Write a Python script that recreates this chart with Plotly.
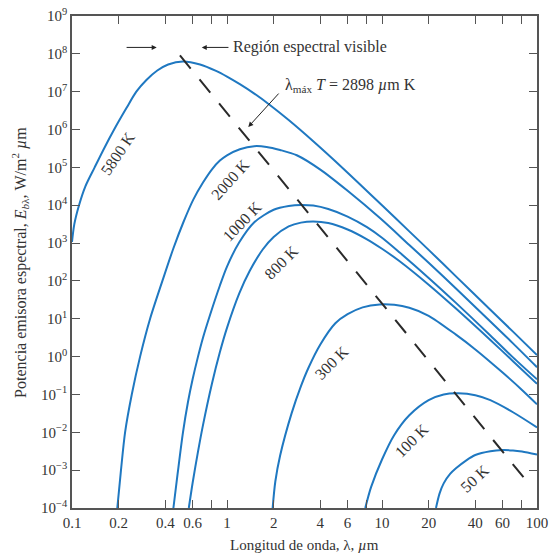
import math
import plotly.graph_objects as go

# ---------------- data ----------------
# wavelength (um) and spectral emissive power (W/m2 um) per temperature
lam_5800 = [0.1, 0.1035, 0.111, 0.122, 0.14, 0.162, 0.187, 0.224, 0.26, 0.302, 0.355, 0.417, 0.52,
            0.67, 0.85, 1.0, 1.21, 1.5, 1.89, 2.5, 3.6, 5, 7, 10, 15, 20, 30, 50, 70, 100]
E_5800 = [1.07e3, 3.16e3, 1.0e4, 3.16e4, 1.0e5, 3.31e5, 1.0e6, 3.63e6, 1.0e7, 2.04e7, 3.63e7, 5.25e7,
          6.31e7, 5.25e7, 3.55e7, 2.51e7, 1.58e7, 8.91e6, 4.47e6, 1.78e6, 4.9e5, 1.45e5, 3.98e4,
          1.0e4, 2.04e3, 661, 132, 17.4, 4.57, 1.10]

lam_2000 = [0.196, 0.207, 0.22, 0.243, 0.275, 0.319, 0.383, 0.45, 0.523, 0.606, 0.7, 0.8, 0.9, 1.0,
            1.21, 1.5, 1.8, 2.2, 2.82, 4, 6, 9.7, 15, 20, 30, 50, 70, 100]
E_2000 = [1e-4, 1e-3, 1e-2, 0.1, 1, 10, 100, 708, 3.55e3, 1.41e4, 3.98e4, 8.91e4, 1.51e5, 2.09e5,
          3.02e5, 3.63e5, 3.47e5, 2.88e5, 2.09e5, 8.71e4, 2.40e4, 4.57e3, 891, 302, 63.1, 8.51,
          2.24, 0.525]

lam_1000 = [0.451, 0.48, 0.52, 0.56, 0.6, 0.65, 0.7, 0.78, 0.9, 1.0, 1.2, 1.5, 2.0, 2.5, 3.0, 3.6,
            4.5, 6.0, 8.0, 10, 13, 20, 30, 50, 70, 100]
E_1000 = [1e-4, 7.94e-4, 1e-2, 6.31e-2, 0.251, 1.0, 3.16, 13.2, 75.9, 240, 1.05e3, 3.55e3, 7.59e3,
          9.55e3, 1.02e4, 9.77e3, 7.94e3, 5.01e3, 2.63e3, 1.38e3, 562, 120, 26.3, 3.63, 0.955, 0.251]

lam_800 = [0.567, 0.6, 0.65, 0.7, 0.8, 0.9, 1.0, 1.2, 1.4, 1.7, 2.0, 2.5, 3.0, 3.6, 4.5, 6.0, 8.0,
           10, 13, 20, 30, 50, 70, 100]
E_800 = [1e-4, 4.57e-4, 3.09e-3, 1.55e-2, 0.195, 1.32, 5.75, 46.8, 182, 676, 1.45e3, 2.75e3, 3.47e3,
         3.72e3, 3.39e3, 2.29e3, 1.26e3, 708, 331, 79.4, 18.6, 2.75, 0.759, 0.191]

lam_300 = [1.97, 2.05, 2.2, 2.61, 3.0, 3.35, 4.0, 5.0, 6.0, 7.5, 9.66, 12, 15, 20, 30, 40, 60, 80, 100]
E_300 = [1e-4, 5.01e-4, 2.40e-3, 3.16e-2, 0.166, 0.501, 2.09, 7.59, 13.2, 20.0, 24.0, 23.4, 19.5,
         12.0, 3.80, 1.55, 0.380, 0.132, 0.055]

lam_100 = [7.8, 8.5, 10, 12, 15, 20, 25, 31, 40, 50, 70, 100]
E_100 = [1e-4, 3.55e-4, 1.91e-3, 8.51e-3, 2.82e-2, 7.08e-2, 0.1, 0.107, 9.55e-2, 7.08e-2, 3.39e-2,
         1.35e-2]

lam_50 = [22.3, 23.5, 25, 27.5, 30, 35, 40, 50, 60, 70, 80, 100]
E_50 = [1e-4, 2.40e-4, 4.47e-4, 7.94e-4, 1.12e-3, 1.82e-3, 2.51e-3, 3.16e-3, 3.39e-3, 3.31e-3,
        3.09e-3, 2.57e-3]

# locus of maxima, lambda_max T = 2898 um K
lam_peak_line = [0.497, 86.5]
E_peak_line = [9.1e7, 4.9e-4]

# curve labels
label_text = ["5800 K", "2000 K", "1000 K", "800 K", "300 K", "100 K", "50 K"]
label_lam = [0.198, 1.046, 1.25, 2.23, 4.76, 15.6, 39.8]
label_E = [2.3e5, 4.9e4, 3.8e3, 316, 0.68, 5.9e-3, 5.9e-4]
label_angle = [-56, -48, -46, -45, -45, -45, -43]

# axis ticks
x_tickvals = [0.1, 0.2, 0.4, 0.6, 0.8, 1, 2, 4, 6, 8, 10, 20, 40, 60, 80, 100]
x_ticktext = ["0.1", "0.2", "0.4", "0.6", "", "1", "2", "4", "6", "", "10", "20", "40", "60", "", "100"]
y_exponents = [-4, -3, -2, -1, 0, 1, 2, 3, 4, 5, 6, 7, 8, 9]

# ---------------- figure ----------------
BLUE = "#1f78c1"
FONT = "Liberation Serif"
TXT = "#333333"

fig = go.Figure()
curves = [(lam_5800, E_5800), (lam_2000, E_2000), (lam_1000, E_1000), (lam_800, E_800),
          (lam_300, E_300), (lam_100, E_100), (lam_50, E_50)]
for lx, ey in curves:
    fig.add_trace(go.Scatter(x=lx, y=ey, mode="lines", showlegend=False, hoverinfo="skip",
                             line=dict(color=BLUE, width=2, shape="spline", smoothing=0.8)))

fig.add_trace(go.Scatter(x=lam_peak_line, y=E_peak_line, mode="lines", showlegend=False,
                         hoverinfo="skip",
                         line=dict(color="#2a2a2a", width=2, dash="17px,14px")))

y_tickvals = [10.0 ** k for k in y_exponents]
y_ticktext = ["10<sup>%s</sup>" % (str(k) if k >= 0 else "\u2212" + str(-k)) for k in y_exponents]

axis_common = dict(showgrid=False, zeroline=False, showline=True, linecolor="#555555",
                   linewidth=1.5, ticks="inside", ticklen=8, tickwidth=1.3, tickcolor="#555555",
                   mirror="ticks", automargin=False,
                   tickfont=dict(family=FONT, size=15, color=TXT))

fig.update_xaxes(type="log", range=[-1, 2], tickmode="array", tickvals=x_tickvals,
                 ticktext=x_ticktext, **axis_common)
fig.update_yaxes(type="log", range=[-4, 9], tickmode="array", tickvals=y_tickvals,
                 ticktext=y_ticktext, **axis_common)

ann = []
for t, lx, ey, a in zip(label_text, label_lam, label_E, label_angle):
    ann.append(dict(x=math.log10(lx), y=math.log10(ey), xref="x", yref="y", text=t,
                    showarrow=False, textangle=a, font=dict(family=FONT, size=16, color=TXT)))

# visible region arrows
yv = 8.17
ann.append(dict(x=math.log10(0.352), y=yv, ax=math.log10(0.22), ay=yv, xref="x", yref="y",
                axref="x", ayref="y", text="", showarrow=True, arrowhead=2, arrowsize=1,
                arrowwidth=1, arrowcolor="#222222"))
ann.append(dict(x=math.log10(0.687), y=yv, ax=math.log10(1.045), ay=yv, xref="x", yref="y",
                axref="x", ayref="y", text="", showarrow=True, arrowhead=2, arrowsize=1,
                arrowwidth=1, arrowcolor="#222222"))
ann.append(dict(x=math.log10(1.06), y=yv, xref="x", yref="y", text="Región espectral visible",
                showarrow=False, xanchor="left", yanchor="middle",
                font=dict(family=FONT, size=16, color=TXT)))
# lambda max annotation
ann.append(dict(x=math.log10(1.372), y=6.07, ax=math.log10(2.198), ay=6.99, xref="x", yref="y",
                axref="x", ayref="y", text="", showarrow=True, arrowhead=2, arrowsize=1,
                arrowwidth=1, arrowcolor="#222222"))
ann.append(dict(x=math.log10(2.30), y=7.17, xref="x", yref="y",
                text="λ<sub>máx</sub> <i>T</i> = 2898 <i>µ</i>m K",
                showarrow=False, xanchor="left", yanchor="middle",
                font=dict(family=FONT, size=16, color=TXT)))
# axis titles
ann.append(dict(x=0.5, y=-0.075, xref="paper", yref="paper",
                text="Longitud de onda, λ, <i>µ</i>m", showarrow=False,
                xanchor="center", yanchor="middle", font=dict(family=FONT, size=15, color=TXT)))
ann.append(dict(x=-0.112, y=0.5, xref="paper", yref="paper",
                text="Potencia emisora espectral, <i>E</i><sub><i>b</i>λ</sub>, W/m<sup>2</sup> <i>µ</i>m",
                showarrow=False, textangle=-90, xanchor="center", yanchor="middle",
                font=dict(family=FONT, size=16, color=TXT)))

fig.update_layout(width=550, height=558, autosize=False,
                  margin=dict(l=72, r=13, t=16, b=50, autoexpand=False),
                  paper_bgcolor="white", plot_bgcolor="white",
                  font=dict(family=FONT, color=TXT),
                  annotations=ann, showlegend=False)

fig.write_html("out.html")
